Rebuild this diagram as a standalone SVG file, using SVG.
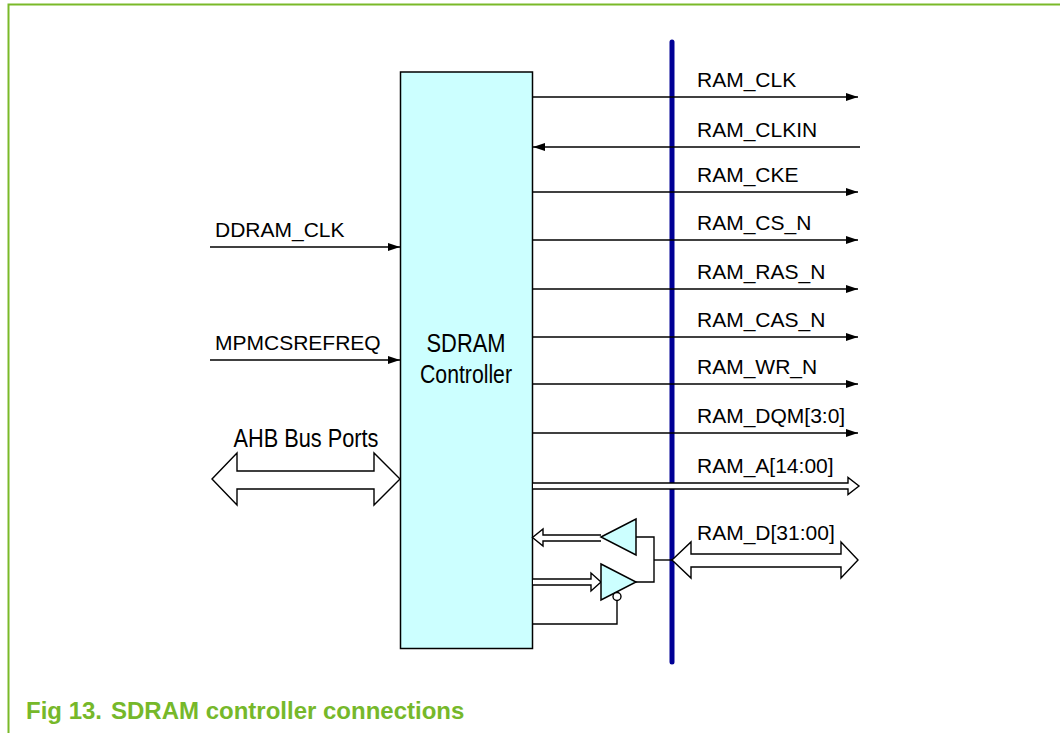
<svg xmlns="http://www.w3.org/2000/svg" width="1060" height="733" viewBox="0 0 1060 733">
<style>
.frame{fill:none;stroke:#7AB929;stroke-width:2}
.box{fill:#CCFFFF;stroke:#000;stroke-width:1.5}
.w{fill:none;stroke:#000;stroke-width:1.4}
.dbl{fill:#fff;stroke:#000;stroke-width:1.4;stroke-linejoin:miter}
.lbl{font-family:"Liberation Sans",Arial,sans-serif;font-size:21px;fill:#000}
.big{font-family:"Liberation Sans Narrow","Liberation Sans",Arial,sans-serif;font-size:26px;fill:#000}
.cap{font-family:"Liberation Sans",Arial,sans-serif;font-size:24px;font-weight:bold;fill:#76B82A}
</style>
<defs>
<marker id="ah" markerUnits="userSpaceOnUse" markerWidth="12" markerHeight="10" refX="12" refY="5" orient="auto">
<path d="M0,1 L12,5 L0,9 z" fill="#000"/>
</marker>
</defs>
<rect width="1060" height="733" fill="#fff"/>
<path class="frame" d="M8.5,733 V4.5 H1060"/>

<g id="controller">
<rect class="box" x="400.5" y="72" width="132" height="576.5"/>
<text class="big" x="466" y="352" text-anchor="middle" textLength="79" lengthAdjust="spacingAndGlyphs">SDRAM</text>
<text class="big" x="466" y="383" text-anchor="middle" textLength="92" lengthAdjust="spacingAndGlyphs">Controller</text>
</g>

<g id="bus">
<line x1="672" y1="42" x2="672" y2="662" stroke="#000096" stroke-width="5" stroke-linecap="round"/>
</g>

<g id="connectors">
<line class="w" x1="532.5" y1="97" x2="858" y2="97" marker-end="url(#ah)"/>
<line class="w" x1="860" y1="147" x2="533" y2="147" marker-end="url(#ah)"/>
<line class="w" x1="532.5" y1="192" x2="858" y2="192" marker-end="url(#ah)"/>
<line class="w" x1="532.5" y1="240" x2="858" y2="240" marker-end="url(#ah)"/>
<line class="w" x1="532.5" y1="289" x2="858" y2="289" marker-end="url(#ah)"/>
<line class="w" x1="532.5" y1="337" x2="858" y2="337" marker-end="url(#ah)"/>
<line class="w" x1="532.5" y1="384" x2="858" y2="384" marker-end="url(#ah)"/>
<line class="w" x1="532.5" y1="433" x2="858" y2="433" marker-end="url(#ah)"/>
<line class="w" x1="210" y1="247" x2="400" y2="247" marker-end="url(#ah)"/>
<line class="w" x1="210" y1="360" x2="400" y2="360" marker-end="url(#ah)"/>
<path class="dbl" d="M533,483 H848 V477.5 L859,486 L848,494.5 V489 H533"/>
<path class="dbl" d="M212,479 L237,453 V471 H374 V453 L400,479 L374,505 V489 H237 V505 Z"/>
<path class="dbl" d="M672,560 L691,542 V554 H841 V542 L858,560 L841,578 V567 H691 V578 Z"/>
<path class="dbl" d="M601,535 H543 V529 L532.5,537.5 L543,546 V541 H601"/>
<path class="dbl" d="M533,579 H591 V573 L601,582 L591,591 V585 H533"/>
<path class="w" d="M636,537 H654 V582 H636"/>
<line class="w" x1="654" y1="560" x2="672" y2="560"/>
<path class="w" d="M617,600 V624 H532.5"/>
</g>

<g id="buffers">
<path class="box" d="M601,537 L636,519 V555 Z"/>
<path class="box" d="M601,564 L636,582 L601,600 Z"/>
<circle cx="617" cy="596.5" r="4" fill="#fff" stroke="#000" stroke-width="1.4"/>
</g>

<g id="labels">
<text class="lbl" x="697" y="87">RAM_CLK</text>
<text class="lbl" x="697" y="137">RAM_CLKIN</text>
<text class="lbl" x="697" y="182">RAM_CKE</text>
<text class="lbl" x="697" y="230">RAM_CS_N</text>
<text class="lbl" x="697" y="279">RAM_RAS_N</text>
<text class="lbl" x="697" y="327">RAM_CAS_N</text>
<text class="lbl" x="697" y="374">RAM_WR_N</text>
<text class="lbl" x="697" y="423">RAM_DQM[3:0]</text>
<text class="lbl" x="697" y="473">RAM_A[14:00]</text>
<text class="lbl" x="697" y="540">RAM_D[31:00]</text>
<text class="lbl" x="215" y="237">DDRAM_CLK</text>
<text class="lbl" x="215" y="350">MPMCSREFREQ</text>
<text class="big" x="306" y="447" text-anchor="middle" textLength="145" lengthAdjust="spacingAndGlyphs">AHB Bus Ports</text>
</g>

<g id="caption">
<text class="cap" x="26" y="719">Fig 13.<tspan x="111">SDRAM controller connections</tspan></text>
</g>
</svg>
